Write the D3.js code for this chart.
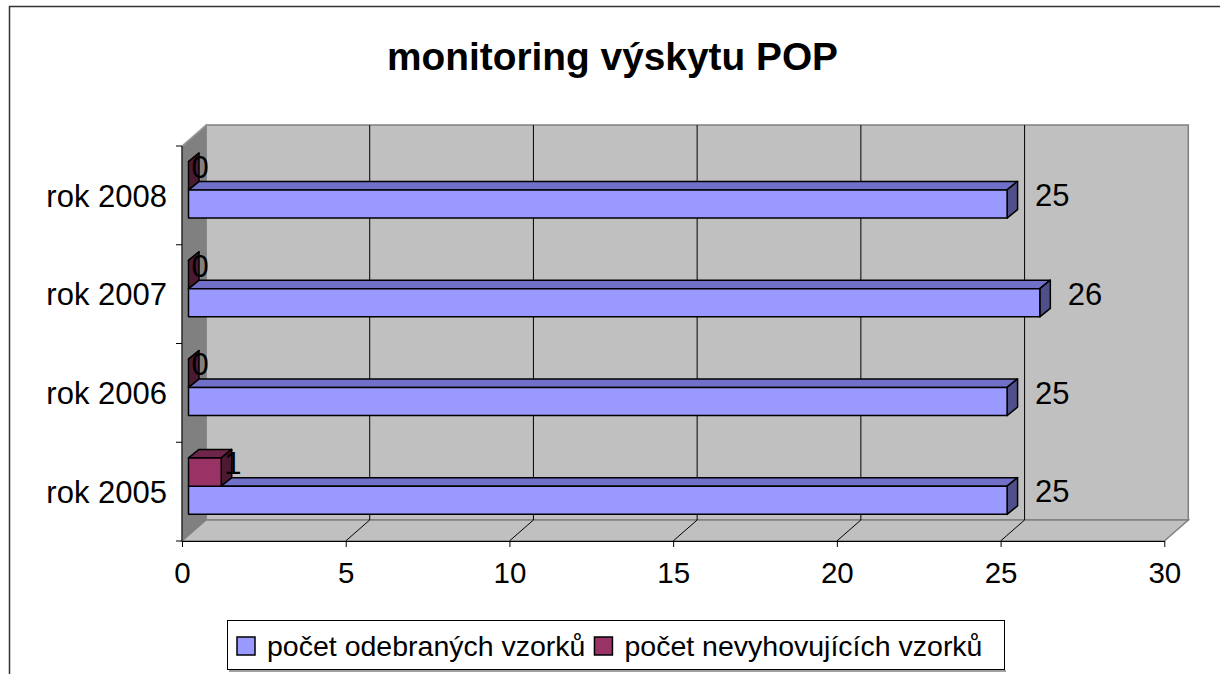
<!DOCTYPE html>
<html><head><meta charset="utf-8">
<script src="https://cdn.jsdelivr.net/npm/d3@7"></script>
<style>
html,body{margin:0;padding:0;background:#fff;overflow:hidden}
text{font-family:"Liberation Sans",Arial,sans-serif;fill:#000}
</style></head><body>
<svg id="chart" width="1220" height="674"></svg>
<script>
const title = "monitoring výskytu POP";
const categories = ["rok 2008","rok 2007","rok 2006","rok 2005"];
const seriesNames = ["počet odebraných vzorků","počet nevyhovujících vzorků"];
const odebrane = [25, 26, 25, 25];
const nevyhovujici = [0, 0, 0, 1];
const xTicks = [0,5,10,15,20,25,30];

const colors = {
  s0: {front:"#9999FF", top:"#7070C8", side:"#4F4F8A"},
  s1: {front:"#993366", top:"#6E2549", side:"#4C1932"}
};

const svg = d3.select("#chart");
// outer border
svg.append("rect").attr("x",9.5).attr("y",6.5).attr("width",1240).attr("height",700)
  .attr("fill","#fff").attr("stroke","#333").attr("stroke-width",1.5);

// title
svg.append("text").attr("x",612.5).attr("y",70).attr("text-anchor","middle")
  .attr("font-size",38).attr("font-weight","bold")
  .attr("textLength",451).attr("lengthAdjust","spacingAndGlyphs").text(title);

const x = d3.scaleLinear().domain([0,30]).range([182,1164.3]);
const y = d3.scaleBand().domain(categories).range([146,541]);
const DX = 24, DY = -21;           // wall depth
const BX0 = 6.5, BY0 = -5.5;       // bar front-face depth offset
const TX = 10.5, TY = -8.5;        // bar thickness in depth
const yBot = 541, yTopF = 146;

const g = svg.append("g");
// back wall
g.append("polygon").attr("points",[[x(0)+DX,yTopF+DY],[x(30)+DX,yTopF+DY],[x(30)+DX,yBot+DY],[x(0)+DX,yBot+DY]].join(" "))
  .attr("fill","#C0C0C0").attr("stroke","#808080").attr("stroke-width",1.5);
// left wall
g.append("polygon").attr("points",[[x(0),yTopF],[x(0)+DX,yTopF+DY],[x(0)+DX,yBot+DY],[x(0),yBot]].join(" "))
  .attr("fill","#808080").attr("stroke","#808080").attr("stroke-width",1);
// floor
g.append("polygon").attr("points",[[x(0),yBot],[x(30),yBot],[x(30)+DX,yBot+DY],[x(0)+DX,yBot+DY]].join(" "))
  .attr("fill","#C0C0C0").attr("stroke","#808080").attr("stroke-width",1.5);
g.append("line").attr("x1",x(0)).attr("y1",yTopF).attr("x2",x(0)+DX).attr("y2",yTopF+DY)
  .attr("stroke","#A0A0A0").attr("stroke-width",1.5);

// gridlines
const inner = xTicks.filter(v=>v>0 && v<30);
g.selectAll(".gw").data(inner).join("line")
  .attr("x1",d=>x(d)+DX).attr("x2",d=>x(d)+DX).attr("y1",yTopF+DY).attr("y2",yBot+DY)
  .attr("stroke","#000").attr("stroke-width",1);
g.selectAll(".gf").data(inner).join("line")
  .attr("x1",d=>x(d)).attr("y1",yBot).attr("x2",d=>x(d)+DX).attr("y2",yBot+DY)
  .attr("stroke","#000").attr("stroke-width",1);

// axes
const xa = svg.append("g").attr("transform",`translate(0,${yBot})`)
  .call(d3.axisBottom(x).tickValues(xTicks).tickSize(6).tickPadding(15).tickSizeOuter(0));
xa.selectAll("text").attr("font-size",29.5).style("font-family","'Liberation Sans',Arial,sans-serif");
xa.selectAll("line,path").attr("stroke","#000");

const ya = svg.append("g").attr("transform",`translate(${x(0)},0)`)
  .call(d3.axisLeft(y).tickSize(0).tickPadding(15));
ya.selectAll("text").attr("font-size",31).attr("dy","0.36em").style("font-family","'Liberation Sans',Arial,sans-serif");
ya.select("path").remove();
svg.append("line").attr("x1",x(0)).attr("x2",x(0)).attr("y1",yTopF).attr("y2",yBot).attr("stroke","#000");
const bounds = categories.map(c=>y(c)).concat([yBot]);
svg.selectAll(".yt").data(bounds).join("line")
  .attr("x1",x(0)-6).attr("x2",x(0)).attr("y1",d=>d).attr("y2",d=>d).attr("stroke","#000");

// bars
const bw = y.bandwidth()/3.5;
const data = [];
categories.forEach((c,i)=>{
  data.push({c, v:odebrane[i], s:0, yt:y(c)+1.75*bw+BY0});
  data.push({c, v:nevyhovujici[i], s:1, yt:y(c)+0.75*bw+BY0});
});
const bars = svg.append("g");
data.forEach(d=>{
  const col = d.s===0?colors.s0:colors.s1;
  const xl = x(0)+BX0, xr = x(d.v)+BX0, yt = d.yt, yb = d.yt+bw;
  const gg = bars.append("g").attr("stroke","#000").attr("stroke-width",1.5).attr("stroke-linejoin","round");
  gg.append("polygon").attr("points",[[xl,yt],[xr,yt],[xr+TX,yt+TY],[xl+TX,yt+TY]].join(" ")).attr("fill",col.top);
  gg.append("polygon").attr("points",[[xr,yt],[xr+TX,yt+TY],[xr+TX,yb+TY],[xr,yb]].join(" ")).attr("fill",col.side);
  if (d.v>0) gg.append("rect").attr("x",xl).attr("y",yt).attr("width",xr-xl).attr("height",bw).attr("fill",col.front);
});
// labels
data.forEach(d=>{
  const xr = x(d.v)+BX0;
  const off = d.s===0 ? 28 : 3;
  svg.append("text").attr("x",xr+off).attr("y",d.yt+bw/2-9).attr("dy","0.36em")
    .attr("font-size",31).text(d.v);
});

// legend
const lg = svg.append("g");
lg.append("line").attr("x1",229).attr("x2",1006).attr("y1",671).attr("y2",671).attr("stroke","#808080").attr("stroke-width",1.5);
lg.append("rect").attr("x",227.5).attr("y",620.5).attr("width",777).attr("height",49)
  .attr("fill","#fff").attr("stroke","#000").attr("stroke-width",1);
let lx = 237;
seriesNames.forEach((n,i)=>{
  const col = i===0?colors.s0:colors.s1;
  lg.append("rect").attr("x",lx).attr("y",637).attr("width",18).attr("height",18)
    .attr("fill",col.front).attr("stroke","#000").attr("stroke-width",1.5);
  const t = lg.append("text").attr("x",lx+30).attr("y",656).attr("font-size",28.5).text(n);
  lx = lx + 30 + t.node().getComputedTextLength() + 9;
});
</script></body></html>
